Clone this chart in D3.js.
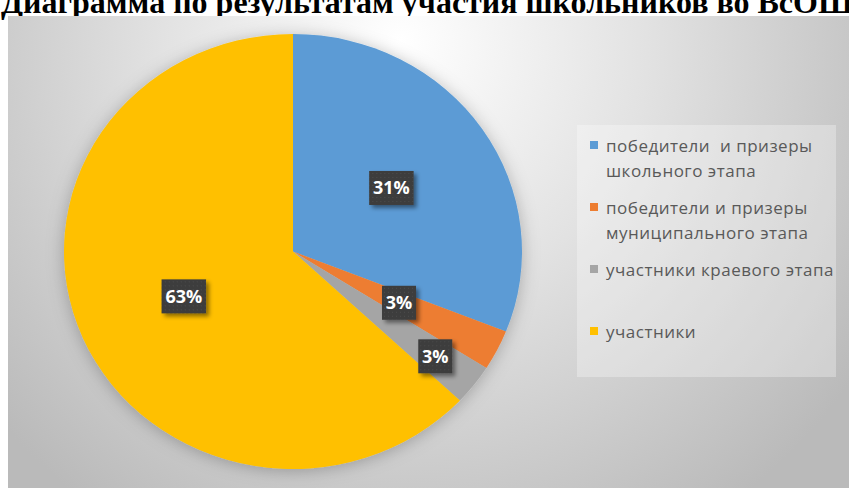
<!DOCTYPE html>
<html>
<head>
<meta charset="utf-8">
<script src="https://cdn.jsdelivr.net/npm/d3@7"></script>
<style>
  html, body { margin: 0; padding: 0; background: #ffffff; overflow: hidden; }
  svg { display: block; }
</style>
</head>
<body>
<div id="chart"></div>
<script>
// chart data
const title = "Диаграмма по результатам участия школьников во ВсОШ";
const categories = [
    ["победители  и призеры", "школьного этапа"],
    ["победители и призеры", "муниципального этапа"],
    ["участники краевого этапа"],
    ["участники"]
];
const values = [31, 3, 3, 63];
const labels = ["31%", "3%", "3%", "63%"];
const colors = ["#5b9bd5", "#ed7d31", "#a5a5a5", "#ffc000"];

const width = 849, height = 488;
const pie = { cx: 293, cy: 251.5, rx: 229, ry: 217.5 };

const svg = d3.select('#chart').append('svg')
    .attr('width', width)
    .attr('height', height);

const defs = svg.append('defs');

// background gradient of the chart area
const grad = defs.append('radialGradient')
    .attr('id', 'bg-grad')
    .attr('gradientUnits', 'userSpaceOnUse')
    .attr('cx', 410).attr('cy', 70).attr('r', 540)
    .attr('fx', 400).attr('fy', 40);
grad.append('stop').attr('offset', 0).attr('stop-color', '#ffffff');
grad.append('stop').attr('offset', 0.45).attr('stop-color', '#e2e2e2');
grad.append('stop').attr('offset', 1).attr('stop-color', '#bababa');

const shadow = defs.append('filter')
    .attr('id', 'pie-shadow')
    .attr('x', '-20%').attr('y', '-20%')
    .attr('width', '140%').attr('height', '140%');
shadow.append('feDropShadow')
    .attr('dx', 0).attr('dy', 2)
    .attr('stdDeviation', 8)
    .attr('flood-color', '#000')
    .attr('flood-opacity', 0.25);

const labelShadow = defs.append('filter')
    .attr('id', 'label-shadow')
    .attr('x', '-30%').attr('y', '-30%')
    .attr('width', '160%').attr('height', '160%');
labelShadow.append('feDropShadow')
    .attr('dx', 3).attr('dy', 3)
    .attr('stdDeviation', 2)
    .attr('flood-color', '#000')
    .attr('flood-opacity', 0.45);

// dotted texture of the data labels
const dots = defs.append('pattern')
    .attr('id', 'label-dots')
    .attr('width', 4).attr('height', 4)
    .attr('patternUnits', 'userSpaceOnUse');
dots.append('rect').attr('width', 4).attr('height', 4).attr('fill', '#3d3d3d');
dots.append('rect').attr('x', 1).attr('y', 1).attr('width', 1).attr('height', 1).attr('fill', '#4d4d4d');

// title, cut by the top edge like in the source picture
svg.append('text')
    .attr('x', 1)
    .attr('y', 13)
    .style('font-family', '"Liberation Serif", "Times New Roman", serif')
    .style('font-weight', 'bold')
    .style('font-size', '32px')
    .style('fill', '#000')
    .text(title);

// chart area
svg.append('rect')
    .attr('x', 8).attr('y', 16)
    .attr('width', width - 8).attr('height', height - 16)
    .attr('fill', 'url(#bg-grad)');

// pie
const arcs = d3.pie().sort(null).value(d => d)(values);
const arc = d3.arc().innerRadius(0).outerRadius(pie.ry);

const pieG = svg.append('g')
    .attr('transform', 'translate(' + pie.cx + ',' + pie.cy + ') scale(' + (pie.rx / pie.ry) + ',1)');

pieG.append('g')
    .attr('filter', 'url(#pie-shadow)')
    .selectAll('path')
    .data(arcs)
    .enter().append('path')
    .attr('d', arc)
    .attr('fill', (d, i) => colors[i]);

// data labels
const labelArc = d3.arc().innerRadius(0).outerRadius(2 * 113);
const outerArc = d3.arc().innerRadius(0).outerRadius(2 * 171);
const placed = [];
const labelG = svg.append('g');
arcs.forEach(function (d, i) {
    let c = labelArc.centroid(d);
    let x = pie.cx + c[0] * pie.rx / pie.ry, y = pie.cy + c[1];
    const w = labels[i].length * 10.5 + 13, h = 34;
    const hit = placed.some(p => Math.abs(p.x - x) < (p.w + w) / 2 && Math.abs(p.y - y) < (p.h + h) / 2);
    if (hit) {
        c = outerArc.centroid(d);
        x = pie.cx + c[0] * pie.rx / pie.ry;
        y = pie.cy + c[1];
    }
    placed.push({ x: x, y: y, w: w, h: h });
    const g = labelG.append('g').attr('transform', 'translate(' + x + ',' + y + ')');
    g.append('rect')
        .attr('x', -w / 2).attr('y', -h / 2)
        .attr('width', w).attr('height', h)
        .attr('fill', 'url(#label-dots)')
        .attr('filter', 'url(#label-shadow)');
    g.append('text')
        .attr('text-anchor', 'middle')
        .attr('dy', '0.36em')
        .style('font-family', '"Open Sans", sans-serif')
        .style('font-weight', 'bold')
        .style('font-size', '18px')
        .style('fill', '#ffffff')
        .text(labels[i]);
});

// legend
const legend = svg.append('g');
legend.append('rect')
    .attr('x', 577).attr('y', 125)
    .attr('width', 259).attr('height', 252)
    .attr('fill', '#ffffff')
    .attr('fill-opacity', 0.3);

const legendY = d3.scaleLinear().domain([0, 3]).range([152, 338]);
const items = legend.selectAll('.legend-item')
    .data(categories)
    .enter().append('g')
    .attr('class', 'legend-item')
    .attr('transform', (d, i) => 'translate(0,' + legendY(i) + ')');
items.append('rect')
    .attr('x', 590).attr('y', -11)
    .attr('width', 8).attr('height', 8)
    .attr('fill', (d, i) => colors[i]);
items.append('text')
    .attr('x', 606)
    .style('font-family', '"Open Sans", sans-serif')
    .style('font-size', '17px')
    .style('letter-spacing', '0.5px')
    .style('fill', '#595959')
    .style('white-space', 'pre')
    .selectAll('tspan')
    .data(d => d)
    .enter().append('tspan')
    .attr('x', 606)
    .attr('dy', (d, j) => j === 0 ? 0 : 25)
    .text(d => d);
</script>
</body>
</html>
